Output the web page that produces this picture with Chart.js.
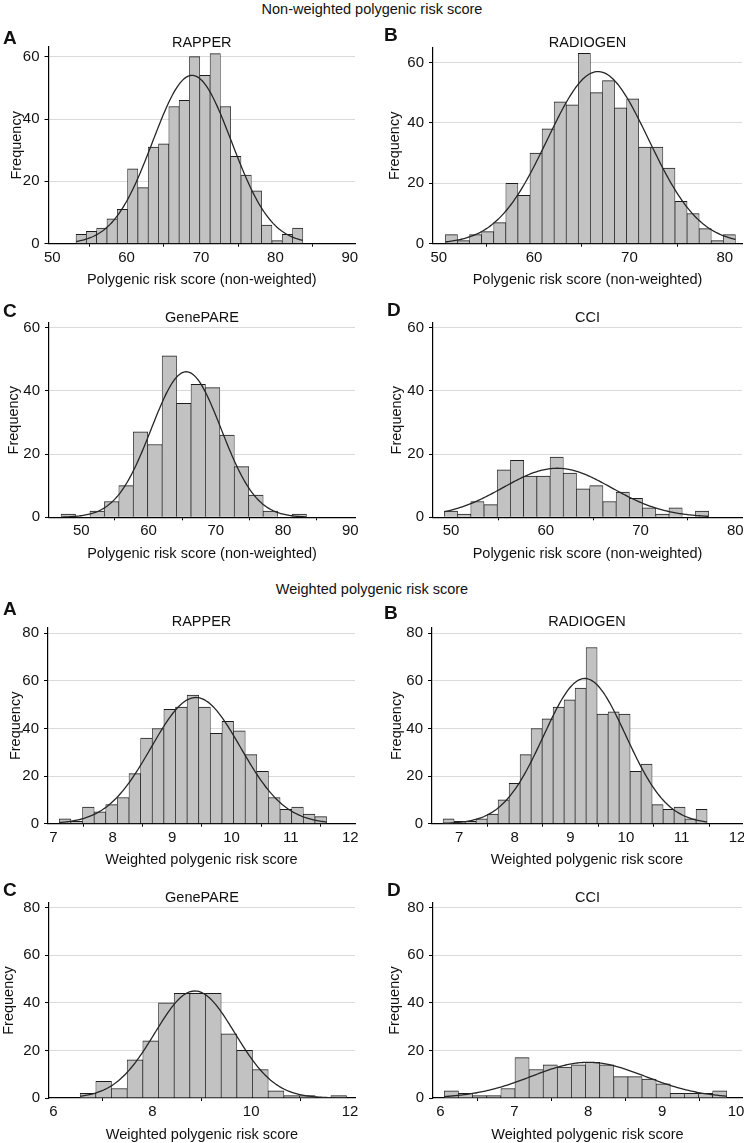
<!DOCTYPE html>
<html>
<head>
<meta charset="utf-8">
<script src="https://cdn.jsdelivr.net/npm/chart.js@4.4.1/dist/chart.umd.min.js"></script>
<style>
  html, body { margin: 0; padding: 0; background: #fff; }
  body { width: 744px; height: 1143px; position: relative; overflow: hidden;
         font-family: "Liberation Sans", Arial, sans-serif; color: #111; }
  .txt { position: absolute; white-space: nowrap; }
  .sec { left: 0; width: 744px; text-align: center; font-size: 14.5px; height: 18px; line-height: 18px; }
  .letter { font-size: 19px; font-weight: bold; height: 22px; line-height: 22px; }
  .ptitle { text-align: center; font-size: 14.5px; height: 18px; line-height: 18px; }
  canvas { position: absolute; }
</style>
</head>
<body>
<script>
// cohorts and labels
const cohorts = ['RAPPER', 'RADIOGEN', 'GenePARE', 'CCI'];
const letters = ['A', 'B', 'C', 'D'];
const sectionTitles = ['Non-weighted polygenic risk score', 'Weighted polygenic risk score'];
const xTitles = ['Polygenic risk score (non-weighted)', 'Weighted polygenic risk score'];
const yTitle = 'Frequency';

// non-weighted histogram counts
const nwRapper   = [3, 4, 5, 8, 11, 24, 18, 31, 32, 44, 46, 60, 54, 61, 44, 28, 22, 17, 6, 1, 3, 5];
const nwRadiogen = [3, 1, 3, 4, 7, 20, 16, 30, 38, 47, 46, 63, 50, 54, 45, 48, 32, 32, 25, 14, 10, 5, 1, 3];
const nwGenepare = [1, 0, 2, 5, 10, 27, 23, 51, 36, 42, 41, 26, 16, 7, 2, 0, 1];
const nwCci      = [2, 1, 5, 4, 15, 18, 13, 13, 19, 14, 9, 10, 5, 8, 6, 3, 1, 3, 0, 2];
// weighted histogram counts
const wRapper   = [2, 1, 7, 5, 8, 11, 21, 36, 40, 48, 49, 54, 49, 38, 43, 39, 29, 22, 11, 6, 7, 4, 3];
const wRadiogen = [2, 1, 1, 2, 4, 10, 17, 29, 40, 44, 49, 52, 57, 74, 46, 47, 46, 22, 25, 8, 6, 7, 2, 6];
const wGenepare = [2, 7, 4, 16, 24, 40, 44, 44, 44, 27, 20, 12, 3, 1, 1, 0, 1];
const wCci      = [3, 2, 1, 1, 4, 17, 12, 14, 13, 14, 15, 14, 9, 9, 8, 6, 2, 2, 2, 3];

// first bin edge and bin width, per cohort
const nwBinStart = [53.2, 50.7, 47.0, 49.3];
const nwBinWidth = [1.386, 1.267, 2.146, 1.394];
const wBinStart  = [7.10, 6.71, 6.54, 6.054];
const wBinWidth  = [0.1957, 0.198, 0.317, 0.191];

// fitted normal curve: mean, sd, peak height
const nwFitMean = [68.8, 66.7, 65.6, 61.2];
const nwFitSd   = [5.3, 5.3, 5.2, 5.7];
const nwFitPeak = [54, 57, 46, 15.5];
const wFitMean  = [9.4, 9.26, 8.86, 8.0];
const wFitSd    = [0.75, 0.74, 0.81, 0.77];
const wFitPeak  = [53, 61, 45, 15];

// axes
const nwXTicks = [[50, 60, 70, 80, 90], [50, 60, 70, 80], [50, 60, 70, 80, 90], [50, 60, 70, 80]];
const wXTicks  = [[7, 8, 9, 10, 11, 12], [7, 8, 9, 10, 11, 12], [6, 8, 10, 12], [6, 7, 8, 9, 10]];
const nwXMin = [49.5, 49.4, 45.2, 48.1];
const nwXMax = [90.7, 81.8, 90.7, 80.7];
const wXMin  = [6.91, 6.51, 5.91, 5.9];
const wXMax  = [12.08, 12.09, 12.1, 10.08];
const nwYTicks = [0, 20, 40, 60];
const wYTicks  = [0, 20, 40, 60, 80];
const nwYMax = [63.1, 64.8, 61.4, 61.4];
const wYMax  = [82.2, 82.2, 82.0, 82.0];

// page layout: plot areas (px), frequency label x, letter / title positions
const plotAreas = [
  {l: 48.5, r: 355, t: 47,  b: 243.7, fy: 17,    top: 28,  lx: 3,   ly: 38,  ty: 42},
  {l: 433,  r: 742, t: 48,  b: 243.7, fy: 395,   top: 28,  lx: 384, ly: 35,  ty: 42},
  {l: 49,   r: 355, t: 323, b: 517.3, fy: 13.5,  top: 298, lx: 3,   ly: 311, ty: 317},
  {l: 433,  r: 742, t: 323, b: 517.3, fy: 397,   top: 298, lx: 387, ly: 310, ty: 317},
  {l: 48,   r: 355, t: 628, b: 823.7, fy: 15.5,  top: 598, lx: 3,   ly: 609, ty: 621},
  {l: 432,  r: 742, t: 628, b: 823.7, fy: 396.5, top: 598, lx: 384, ly: 613, ty: 621},
  {l: 49,   r: 355, t: 903, b: 1098,  fy: 9,     top: 878, lx: 3,   ly: 890, ty: 897},
  {l: 433,  r: 742, t: 903, b: 1098,  fy: 394.5, top: 878, lx: 387, ly: 890, ty: 897}
];
const sectionY = [9, 589];

const FONT = '"Liberation Sans", Arial, sans-serif';
Chart.defaults.font.family = FONT;
Chart.defaults.color = '#111';

function addText(cls, text, css) {
  const d = document.createElement('div');
  d.className = 'txt ' + cls;
  d.textContent = text;
  Object.assign(d.style, css);
  document.body.appendChild(d);
}

function histPanel(area, p) {
  const left = area.l > 372 ? 372 : 0;
  const w = 380;
  const h = Math.ceil(area.b - area.top + 46);
  const xAxisH = h - (area.b - area.top);

  const cv = document.createElement('canvas');
  cv.width = w; cv.height = h;
  cv.style.left = left + 'px'; cv.style.top = area.top + 'px';
  cv.style.width = w + 'px'; cv.style.height = h + 'px';
  document.body.appendChild(cv);

  const bars = p.counts.map((c, i) => ({x: p.start + (i + 0.5) * p.width, y: c}));
  const x0 = p.start, x1 = p.start + p.counts.length * p.width;
  const curve = [];
  for (let k = 0; k <= 200; k++) {
    const x = x0 + (x1 - x0) * k / 200;
    curve.push({x: x, y: p.peak * Math.exp(-0.5 * Math.pow((x - p.mean) / p.sd, 2))});
  }

  new Chart(cv, {
    type: 'bar',
    data: {
      datasets: [
        {type: 'line', data: curve, borderColor: '#262626', borderWidth: 1.3,
         pointRadius: 0, tension: 0, order: 0},
        {data: bars, backgroundColor: '#c2c2c2', borderColor: '#1c1c1c',
         borderWidth: {top: 1, left: 0.7, right: 0.7, bottom: 0}, borderSkipped: false,
         barPercentage: 1, categoryPercentage: 1, order: 1}
      ]
    },
    options: {
      responsive: false,
      animation: false,
      layout: {padding: {top: area.t - area.top, right: left + w - area.r, left: 0, bottom: 0}},
      plugins: {legend: {display: false}, tooltip: {enabled: false}},
      scales: {
        x: {
          type: 'linear', min: p.xMin, max: p.xMax, offset: false,
          afterBuildTicks: s => { s.ticks = p.xTicks.map(v => ({value: v})); },
          afterFit: s => { s.height = xAxisH; s.paddingLeft = 0; s.paddingRight = 0; },
          grid: {drawOnChartArea: false, tickLength: 3, tickColor: '#000', tickWidth: 1},
          border: {color: '#000', width: 1.2},
          ticks: {padding: 2, font: {size: 15}, maxRotation: 0, autoSkip: false},
          title: {display: true, text: p.xTitle, font: {size: 14.5},
                  padding: {top: 0, bottom: xAxisH - 45.2}}
        },
        y: {
          min: 0, max: p.yMax,
          afterBuildTicks: s => { s.ticks = p.yTicks.map(v => ({value: v})); },
          afterFit: s => { s.width = area.l - left; s.paddingTop = 0; s.paddingBottom = 0; },
          grid: {color: ctx => (ctx.tick && ctx.tick.value === 0) ? 'rgba(0,0,0,0)' : '#dadada',
                 tickLength: 4, tickColor: '#000', tickWidth: 1},
          border: {color: '#000', width: 1.2},
          ticks: {padding: 5, font: {size: 15}},
          title: {display: true, text: yTitle, font: {size: 14.5},
                  padding: {top: area.fy - left - 8.7, bottom: 0}}
        }
      }
    }
  });
}

sectionTitles.forEach((t, i) => addText('sec', t, {top: (sectionY[i] - 9) + 'px'}));

const nwCounts = [nwRapper, nwRadiogen, nwGenepare, nwCci];
const wCounts = [wRapper, wRadiogen, wGenepare, wCci];

for (let k = 0; k < 8; k++) {
  const weighted = k >= 4;
  const i = k % 4;
  const area = plotAreas[k];
  histPanel(area, weighted ? {
    counts: wCounts[i], start: wBinStart[i], width: wBinWidth[i],
    mean: wFitMean[i], sd: wFitSd[i], peak: wFitPeak[i],
    xTicks: wXTicks[i], xMin: wXMin[i], xMax: wXMax[i],
    yTicks: wYTicks, yMax: wYMax[i], xTitle: xTitles[1]
  } : {
    counts: nwCounts[i], start: nwBinStart[i], width: nwBinWidth[i],
    mean: nwFitMean[i], sd: nwFitSd[i], peak: nwFitPeak[i],
    xTicks: nwXTicks[i], xMin: nwXMin[i], xMax: nwXMax[i],
    yTicks: nwYTicks, yMax: nwYMax[i], xTitle: xTitles[0]
  });
  addText('letter', letters[i], {left: area.lx + 'px', top: (area.ly - 11) + 'px'});
  addText('ptitle', cohorts[i], {left: area.l + 'px', width: (area.r - area.l) + 'px',
                                 top: (area.ty - 9) + 'px'});
}
</script>
</body>
</html>
